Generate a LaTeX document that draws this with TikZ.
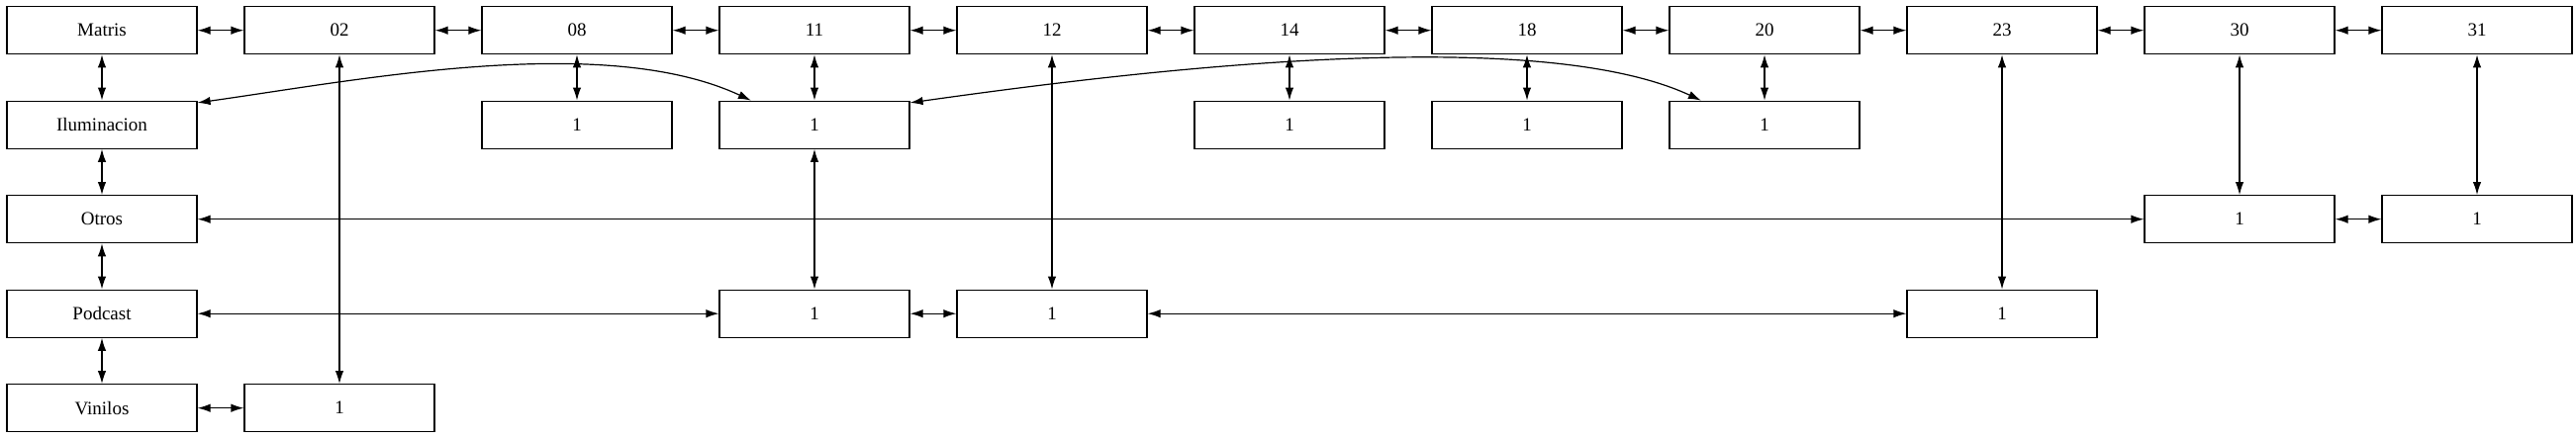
\documentclass[tikz,border=0pt]{standalone}
\usepackage{fontspec}
\setmainfont{Liberation Serif}
\usetikzlibrary{arrows.meta}

\begin{document}
\begin{tikzpicture}[x=1pt, y=1pt, every node/.style={font=\fontsize{9.5}{11}\selectfont},
	box/.style={draw, line width=0.6pt, minimum width=96pt, minimum height=24pt, inner sep=0pt},
	>={Latex[length=6.5pt,width=4.2pt]}, every path/.style={line width=0.6pt}]
	\useasboundingbox (0,0) rectangle (1301.5,-221.5);
	% top row: the months
	\foreach \d [count=\i from 0] in {Matris,02,08,11,12,14,18,20,23,30,31}
		\node[box] (d\d) at (51.5+120*\i, -15.35) {\d};
	\foreach \a/\b in {Matris/02,02/08,08/11,11/12,12/14,14/18,18/20,20/23,23/30,30/31}
		\draw[<->] (d\a) -- (d\b);
	% left column
	\node[box] (ilum) at (51.5, -63.1) {Iluminacion};
	\node[box] (otros) at (51.5, -110.85) {Otros};
	\node[box] (podcast) at (51.5, -158.6) {Podcast};
	\node[box] (vinilos) at (51.5, -206.35) {Vinilos};
	\draw[<->] (dMatris) -- (ilum);
	\draw[<->] (ilum) -- (otros);
	\draw[<->] (otros) -- (podcast);
	\draw[<->] (podcast) -- (vinilos);
	% counts
	\node[box] (v02) at (171.5, -206.35) {1};
	\node[box] (u08) at (291.5, -63.1) {1};
	\node[box] (u11) at (411.5, -63.1) {1};
	\node[box] (u14) at (651.5, -63.1) {1};
	\node[box] (u18) at (771.5, -63.1) {1};
	\node[box] (u20) at (891.5, -63.1) {1};
	\node[box] (o30) at (1131.5, -110.85) {1};
	\node[box] (o31) at (1251.5, -110.85) {1};
	\node[box] (p11) at (411.5, -158.6) {1};
	\node[box] (p12) at (531.5, -158.6) {1};
	\node[box] (p23) at (1011.5, -158.6) {1};
	\draw[<->] (vinilos) -- (v02);
	\draw[<->] (d02) -- (v02);
	\foreach \d in {08,11,14,18,20}
		\draw[<->] (d\d) -- (u\d);
	\draw[<->] (ilum.13) to[out=8, in=155, looseness=0.75] (u11.159);
	\draw[<->] (u11.13) to[out=8, in=155, looseness=0.62] (u20.159);
	\draw[<->] (u11) -- (p11);
	\draw[<->] (d12) -- (p12);
	\draw[<->] (d23) -- (p23);
	\draw[<->] (podcast) -- (p11);
	\draw[<->] (p11) -- (p12);
	\draw[<->] (p12) -- (p23);
	\draw[<->] (d30) -- (o30);
	\draw[<->] (d31) -- (o31);
	\draw[<->] (o30) -- (o31);
	\draw[<->] (otros) -- (o30);
\end{tikzpicture}
\end{document}
